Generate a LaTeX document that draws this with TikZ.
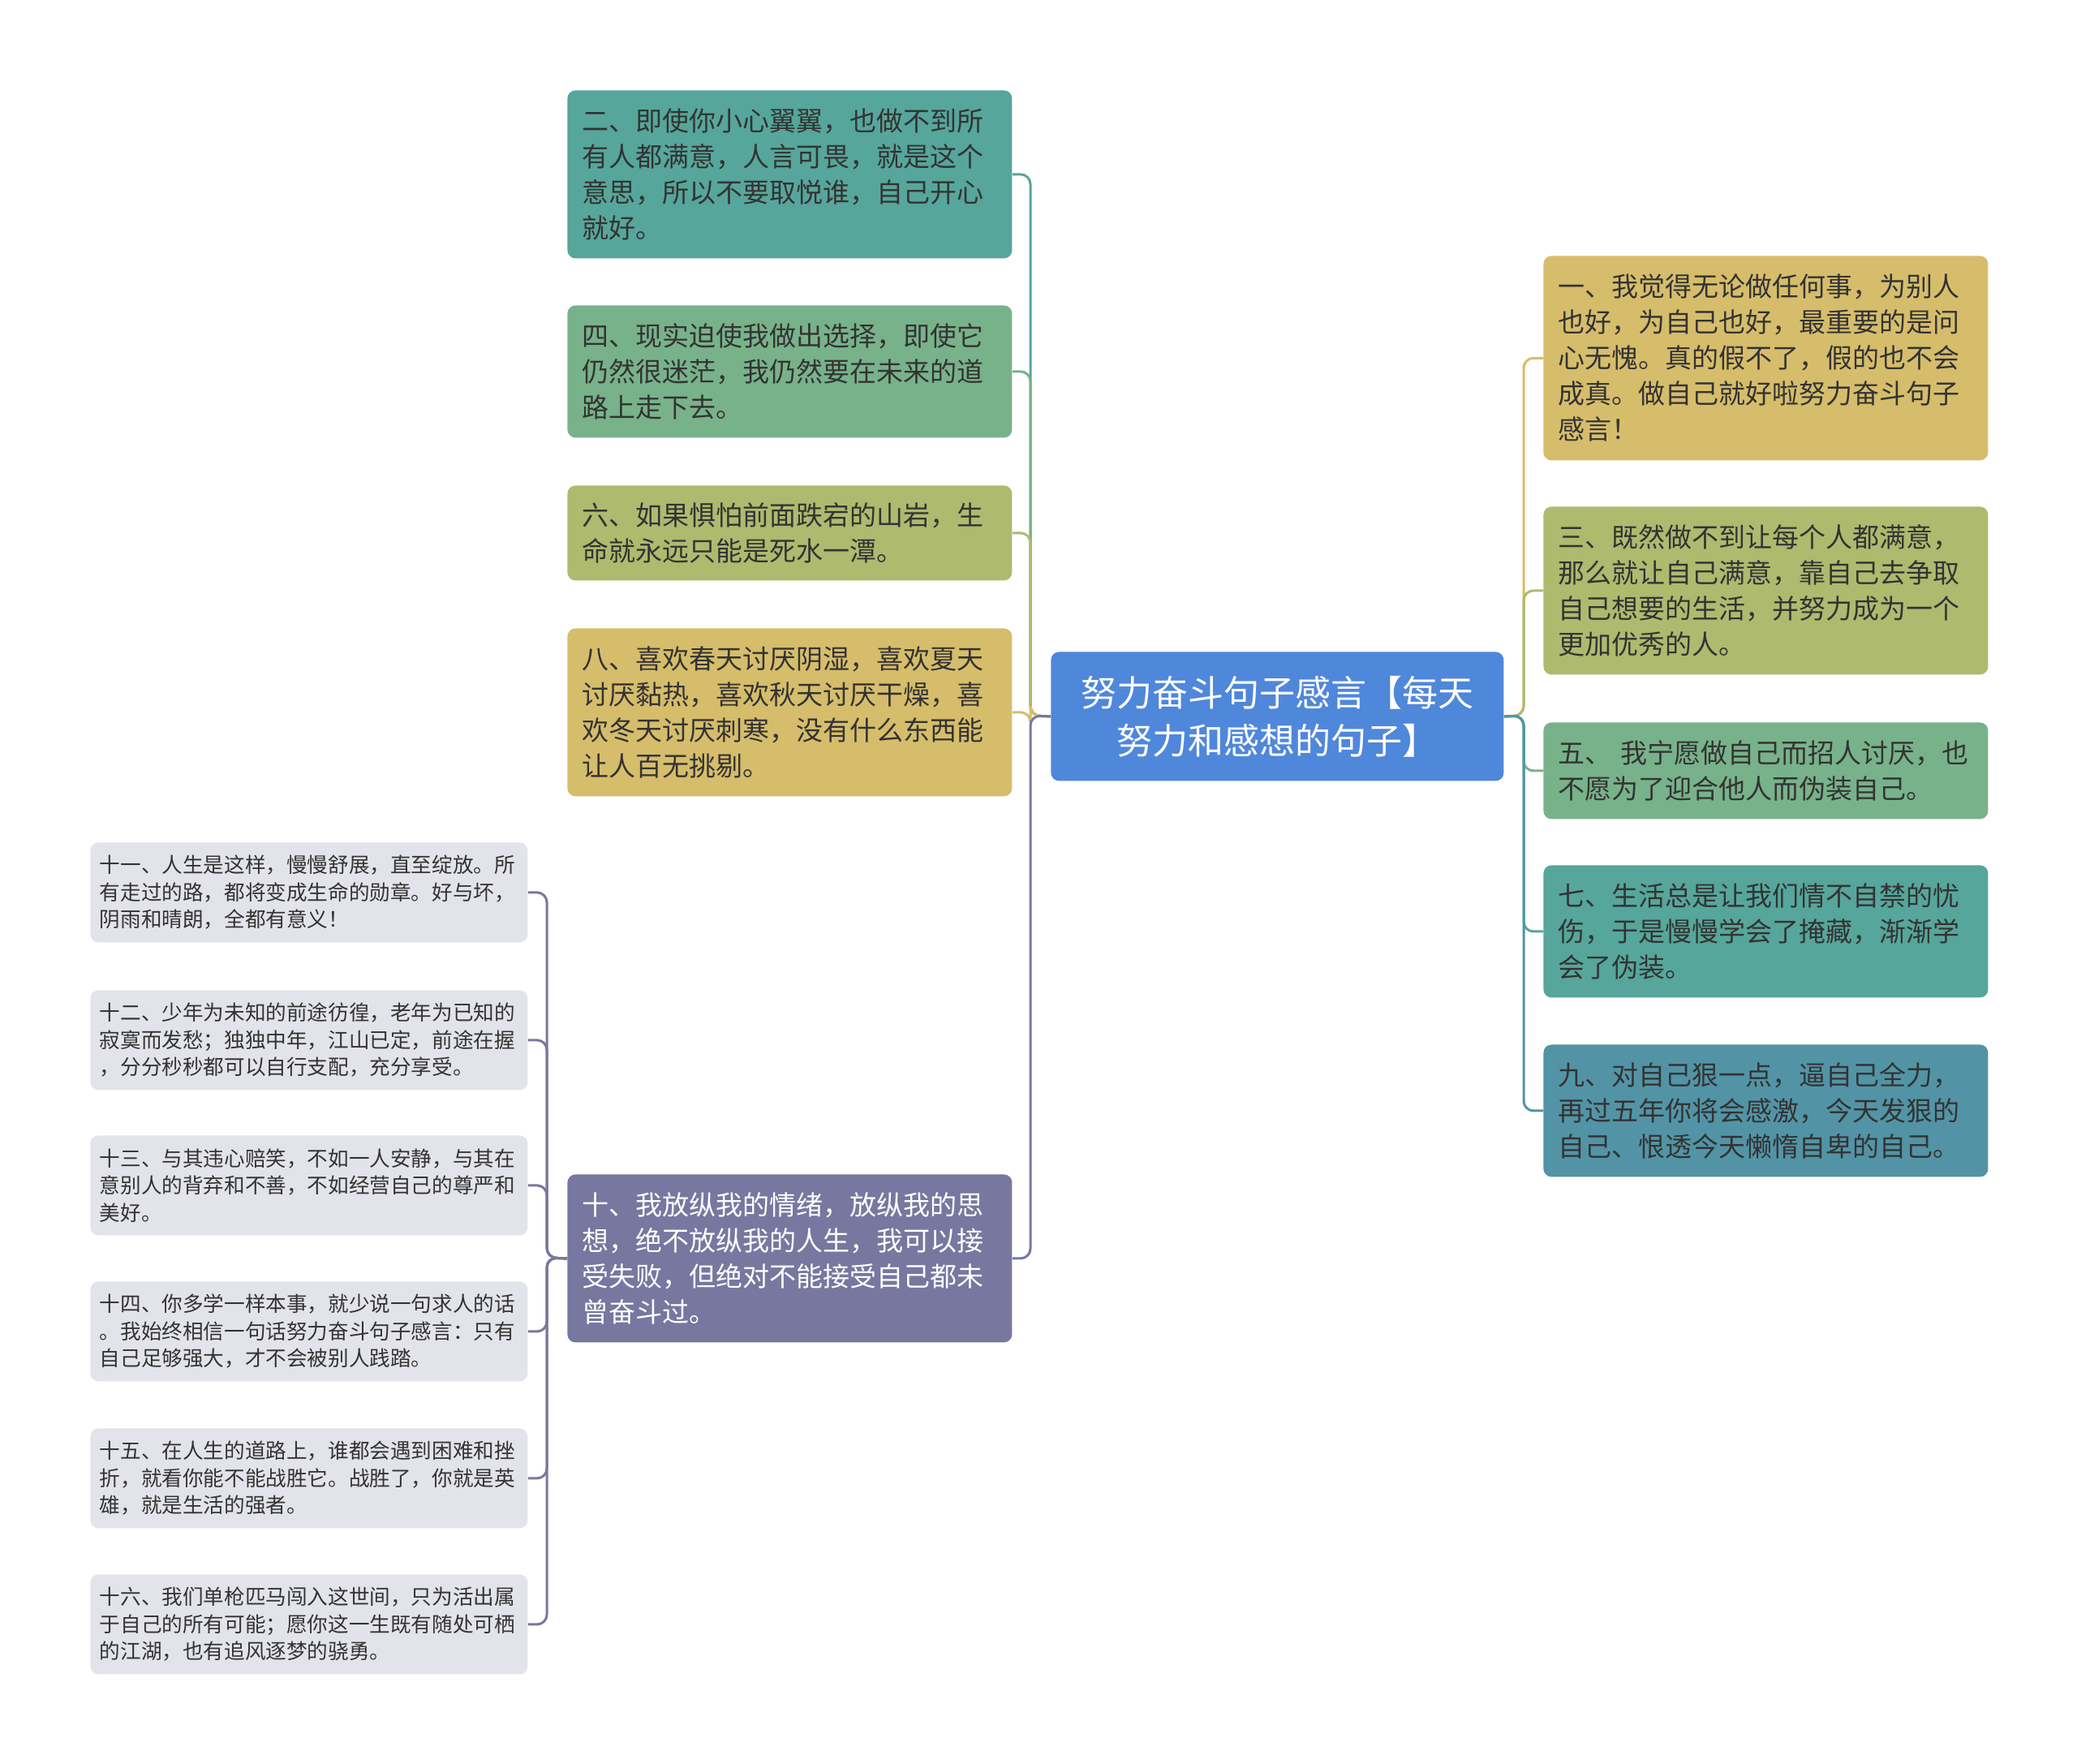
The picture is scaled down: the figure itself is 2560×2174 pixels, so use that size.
\documentclass[tikz,border=0pt]{standalone}
\usepackage{fontspec}
\setmainfont{Noto Sans CJK SC}
\definecolor{rootblue}{HTML}{4F87DB}
\definecolor{teal2}{HTML}{56A69B}
\definecolor{green2}{HTML}{78B28A}
\definecolor{olive2}{HTML}{AEBA6E}
\definecolor{gold2}{HTML}{D6BD6B}
\definecolor{purple2}{HTML}{7777A0}
\definecolor{blue2}{HTML}{5294A6}
\definecolor{gray2}{HTML}{E3E4EB}
\definecolor{ink}{HTML}{333333}

\begin{document}
\begin{tikzpicture}[x=0.5pt,y=-0.5pt,
    box/.style = {rounded corners=5pt, anchor=north west, align=left, text=ink,
        text width=256pt, inner xsep=9pt, inner ysep=0pt,
        font=\fontsize{16.5}{22}\selectfont},
    small/.style = {box, fill=gray2, text width=258pt, inner xsep=5.75pt,
        minimum height=61.5pt, font=\fontsize{12.8}{16.75}\selectfont},
    root/.style = {box, align=center, text=white, text width=261pt,
        font=\fontsize{22}{29.5}\selectfont},
    link/.style = {line width=1.5pt, rounded corners=6pt}]
    \useasboundingbox (0,0) rectangle (2560,2174);

    % centre
    \node[root, fill=rootblue, minimum height=79.5pt] (root) at (1295,803) {努力奋斗句子感言【每天\\努力和感想的句子】};

    % left branch
    \node[box, fill=teal2, minimum height=103.5pt] (two) at (699,111) {二、即使你小心翼翼，也做不到所\\有人都满意，人言可畏，就是这个\\意思，所以不要取悦谁，自己开心\\就好。};
    \node[box, fill=green2, minimum height=81.5pt] (four) at (699,376) {四、现实迫使我做出选择，即使它\\仍然很迷茫，我仍然要在未来的道\\路上走下去。};
    \node[box, fill=olive2, minimum height=58.5pt] (six) at (699,598) {六、如果惧怕前面跌宕的山岩，生\\命就永远只能是死水一潭。};
    \node[box, fill=gold2, minimum height=103.5pt] (eight) at (699,774) {八、喜欢春天讨厌阴湿，喜欢夏天\\讨厌黏热，喜欢秋天讨厌干燥，喜\\欢冬天讨厌刺寒，没有什么东西能\\让人百无挑剔。};
    \node[box, fill=purple2, text=white, minimum height=103.5pt] (ten) at (699,1447) {十、我放纵我的情绪，放纵我的思\\想，绝不放纵我的人生，我可以接\\受失败，但绝对不能接受自己都未\\曾奋斗过。};

    % right branch
    \node[box, fill=gold2, minimum height=126pt] (one) at (1902,315) {一、我觉得无论做任何事，为别人\\也好，为自己也好，最重要的是问\\心无愧。真的假不了，假的也不会\\成真。做自己就好啦努力奋斗句子\\感言！};
    \node[box, fill=olive2, minimum height=103.5pt] (three) at (1902,624) {三、既然做不到让每个人都满意，\\那么就让自己满意，靠自己去争取\\自己想要的生活，并努力成为一个\\更加优秀的人。};
    \node[box, fill=green2, minimum height=59.5pt] (five) at (1902,890) {五、 我宁愿做自己而招人讨厌，也\\不愿为了迎合他人而伪装自己。};
    \node[box, fill=teal2, minimum height=81.5pt] (seven) at (1902,1066) {七、生活总是让我们情不自禁的忧\\伤，于是慢慢学会了掩藏，渐渐学\\会了伪装。};
    \node[box, fill=blue2, minimum height=81.5pt] (nine) at (1902,1287) {九、对自己狠一点，逼自己全力，\\再过五年你将会感激，今天发狠的\\自己、恨透今天懒惰自卑的自己。};

    % children of ten
    \node[small] (eleven) at (111,1038) {十一、人生是这样，慢慢舒展，直至绽放。所\\有走过的路，都将变成生命的勋章。好与坏，\\阴雨和晴朗，全都有意义！};
    \node[small] (twelve) at (111,1220) {十二、少年为未知的前途彷徨，老年为已知的\\寂寞而发愁；独独中年，江山已定，前途在握\\，分分秒秒都可以自行支配，充分享受。};
    \node[small] (thirteen) at (111,1399) {十三、与其违心赔笑，不如一人安静，与其在\\意别人的背弃和不善，不如经营自己的尊严和\\美好。};
    \node[small] (fourteen) at (111,1579) {十四、你多学一样本事，就少说一句求人的话\\。我始终相信一句话努力奋斗句子感言：只有\\自己足够强大，才不会被别人践踏。};
    \node[small] (fifteen) at (111,1760) {十五、在人生的道路上，谁都会遇到困难和挫\\折，就看你能不能战胜它。战胜了，你就是英\\雄，就是生活的强者。};
    \node[small] (sixteen) at (111,1940) {十六、我们单枪匹马闯入这世间，只为活出属\\于自己的所有可能；愿你这一生既有随处可栖\\的江湖，也有追风逐梦的骁勇。};

    \coordinate (ltrunk) at (1270,882);
    \coordinate (rtrunk) at (1878,882);
    \coordinate (strunk) at (674,1550);

    \draw[link, teal2] (root.west) -- (ltrunk) |- (two.east);
    \draw[link, green2] (root.west) -- (ltrunk) |- (four.east);
    \draw[link, olive2] (root.west) -- (ltrunk) |- (six.east);
    \draw[link, gold2] (root.west) -- (ltrunk) |- (eight.east);
    \draw[link, purple2] (root.west) -- (ltrunk) |- (ten.east);

    \draw[link, gold2] (root.east) -- (rtrunk) |- (one.west);
    \draw[link, olive2] (root.east) -- (rtrunk) |- (three.west);
    \draw[link, green2] (root.east) -- (rtrunk) |- (five.west);
    \draw[link, teal2] (root.east) -- (rtrunk) |- (seven.west);
    \draw[link, blue2] (root.east) -- (rtrunk) |- (nine.west);

    \foreach \kid in {eleven,twelve,thirteen,fourteen,fifteen,sixteen}
        \draw[link, purple2] (ten.west) -- (strunk) |- (\kid.east);
\end{tikzpicture}
\end{document}
